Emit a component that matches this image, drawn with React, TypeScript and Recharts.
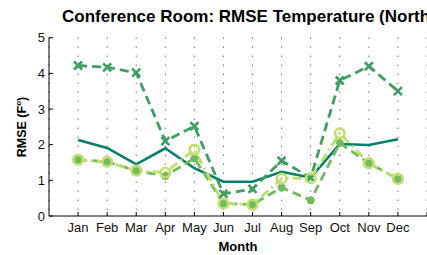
import React from 'react';
import { LineChart, Line, XAxis, YAxis, CartesianGrid } from 'recharts';

const MONTHS = ['Jan', 'Feb', 'Mar', 'Apr', 'May', 'Jun', 'Jul', 'Aug', 'Sep', 'Oct', 'Nov', 'Dec'];
const Y_TICKS = [0, 1, 2, 3, 4, 5];
const X_TICKS = [1, 2, 3, 4, 5, 6, 7, 8, 9, 10, 11, 12, 13];

// RMSE per month, one array per model
const SERIES_SOLID = [2.13, 1.91, 1.45, 1.9, 1.34, 0.96, 0.96, 1.24, 1.08, 2.02, 1.99, 2.15];
const SERIES_CROSS = [4.22, 4.17, 4.02, 2.1, 2.52, 0.62, 0.76, 1.55, 1.07, 3.8, 4.2, 3.5];
const SERIES_STAR = [1.58, 1.52, 1.27, 1.12, 1.62, 0.35, 0.32, 0.8, 0.44, 2.05, 1.48, 1.04];
const SERIES_CIRCLE = [1.58, 1.52, 1.27, 1.22, 1.86, 0.35, 0.32, 1.05, 1.06, 2.32, 1.48, 1.04];

const C_SOLID = '#00806a';
const C_CROSS = '#3f9f62';
const C_STAR = '#72ba5c';
const C_CIRCLE = '#bfdf6c';

const FONT = '"Liberation Sans", Arial, Helvetica, sans-serif';
const PLOT_LEFT = 49;
const PLOT_BOTTOM = 216;

const data = MONTHS.map((m, i) => ({
    x: i + 1,
    month: m,
    solid: SERIES_SOLID[i],
    cross: SERIES_CROSS[i],
    star: SERIES_STAR[i],
    circle: SERIES_CIRCLE[i],
}));

const CrossDot = (props: any) => {
    const { cx, cy, index } = props;
    const s = 4;
    return (
        <path
            key={`cross-${index}`}
            d={`M${cx - s},${cy - s}L${cx + s},${cy + s}M${cx - s},${cy + s}L${cx + s},${cy - s}`}
            stroke={C_CROSS}
            strokeWidth={2.6}
            fill="none"
        />
    );
};

const StarDot = (props: any) => {
    const { cx, cy, index } = props;
    const s = 4;
    const d = 2.9;
    return (
        <path
            key={`star-${index}`}
            d={`M${cx - s},${cy}L${cx + s},${cy}M${cx},${cy - s}L${cx},${cy + s}M${cx - d},${cy - d}L${cx + d},${cy + d}M${cx - d},${cy + d}L${cx + d},${cy - d}`}
            stroke={C_STAR}
            strokeWidth={2.4}
            fill="none"
        />
    );
};

const CircleDot = (props: any) => {
    const { cx, cy, index } = props;
    return (
        <circle key={`circle-${index}`} cx={cx} cy={cy} r={4.8} stroke={C_CIRCLE} strokeWidth={2.6} fill="none" />
    );
};

const XTick = (props: any) => {
    const { x, payload } = props;
    const label = MONTHS[payload.value - 1] ?? '';
    return (
        <g>
            <line x1={x} x2={x} y1={PLOT_BOTTOM} y2={PLOT_BOTTOM - 4} stroke="#000" />
            <text x={x} y={232} textAnchor="middle" fontSize={13} fontFamily={FONT} fill="#111">
                {label}
            </text>
        </g>
    );
};

const YTick = (props: any) => {
    const { y, payload } = props;
    return (
        <g>
            <line x1={PLOT_LEFT} x2={PLOT_LEFT + 4} y1={y} y2={y} stroke="#000" />
            <text x={45} y={y} dy="0.36em" textAnchor="end" fontSize={13} fontFamily={FONT} fill="#111">
                {payload.value}
            </text>
        </g>
    );
};

const YTitle = () => (
    <text
        x={26}
        y={127}
        transform="rotate(-90, 26, 127)"
        textAnchor="middle"
        fontSize={12.5}
        fontWeight="bold"
        fontFamily={FONT}
        fill="#000"
    >
        RMSE (F<tspan fontSize={8} dy={-5}>o</tspan><tspan dy={5}>)</tspan>
    </text>
);

const XTitle = () => (
    <text x={238} y={251} textAnchor="middle" fontSize={13} fontWeight="bold" fontFamily={FONT} fill="#000">
        Month
    </text>
);

export default function App() {
    return (
        <div style={{ position: 'absolute', left: 0, top: 0, width: 427, height: 255, background: '#fff', overflow: 'hidden' }}>
            <div
                style={{
                    position: 'absolute',
                    left: 62,
                    top: 7,
                    whiteSpace: 'nowrap',
                    fontFamily: FONT,
                    fontWeight: 'bold',
                    fontSize: 17,
                    color: '#000',
                }}
            >
                Conference Room: RMSE Temperature (North)
            </div>
            <LineChart width={427} height={255} data={data} margin={{ top: 37.7, right: 0, left: 0, bottom: 0 }}>
                <CartesianGrid horizontal={false} stroke="#333" strokeDasharray="1 8" />
                <XAxis
                    dataKey="x"
                    type="number"
                    domain={[0, 13]}
                    ticks={X_TICKS}
                    height={39}
                    tick={<XTick />}
                    tickLine={false}
                    axisLine={{ stroke: '#000' }}
                    interval={0}
                    label={<XTitle />}
                />
                <YAxis
                    type="number"
                    domain={[0, 5]}
                    ticks={Y_TICKS}
                    width={49}
                    tick={<YTick />}
                    tickLine={false}
                    axisLine={{ stroke: '#000' }}
                    label={<YTitle />}
                />
                <Line dataKey="solid" stroke={C_SOLID} strokeWidth={2.6} dot={false} isAnimationActive={false} />
                <Line
                    dataKey="cross"
                    stroke={C_CROSS}
                    strokeWidth={2.8}
                    strokeDasharray="9 5"
                    dot={CrossDot}
                    isAnimationActive={false}
                />
                <Line
                    dataKey="star"
                    stroke={C_STAR}
                    strokeWidth={2.8}
                    strokeDasharray="9 5"
                    dot={StarDot}
                    isAnimationActive={false}
                />
                <Line
                    dataKey="circle"
                    stroke={C_CIRCLE}
                    strokeWidth={2.8}
                    strokeDasharray="9 4 2 4"
                    dot={CircleDot}
                    isAnimationActive={false}
                />
            </LineChart>
        </div>
    );
}
